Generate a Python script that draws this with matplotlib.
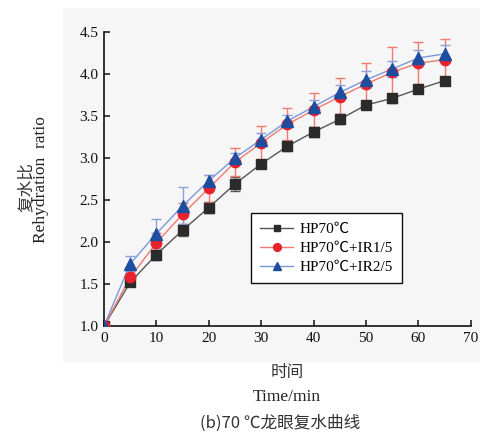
import matplotlib
matplotlib.use("Agg")
import matplotlib.pyplot as plt
from matplotlib.patches import Rectangle
from matplotlib.ticker import FormatStrFormatter

time_min = [0, 5, 10, 15, 20, 25, 30, 35, 40, 45, 50, 55, 60, 65]
hp70 = [1.0, 1.52, 1.85, 2.14, 2.41, 2.69, 2.93, 3.14, 3.31, 3.46, 3.63, 3.71, 3.82, 3.92]
hp70_err = [0, 0.04, 0.06, 0.07, 0.07, 0.08, 0.05, 0.06, 0.06, 0.06, 0.05, 0.05, 0.04, 0.04]
hp70_ir1 = [1.0, 1.58, 1.99, 2.33, 2.64, 2.95, 3.18, 3.40, 3.57, 3.73, 3.88, 4.02, 4.13, 4.17]
hp70_ir1_err = [0, 0.05, 0.12, 0.13, 0.16, 0.17, 0.20, 0.19, 0.20, 0.22, 0.25, 0.30, 0.25, 0.25]
hp70_ir2 = [1.0, 1.74, 2.10, 2.43, 2.73, 3.00, 3.22, 3.44, 3.61, 3.78, 3.93, 4.06, 4.19, 4.24]
hp70_ir2_err = [0, 0.09, 0.17, 0.22, 0.07, 0.06, 0.08, 0.07, 0.08, 0.09, 0.10, 0.10, 0.09, 0.10]
labels = ["HP70℃", "HP70℃+IR1/5", "HP70℃+IR2/5"]
yticks = [1.0, 1.5, 2.0, 2.5, 3.0, 3.5, 4.0, 4.5]
xticks = [0, 10, 20, 30, 40, 50, 60, 70]

serif = ["Liberation Serif", "Noto Sans CJK SC", "DejaVu Sans"]
cjk = ["Noto Sans CJK SC", "Liberation Serif", "DejaVu Sans"]
plt.rcParams['font.family'] = serif

W, H = 491, 436
fig = plt.figure(figsize=(W / 100, H / 100), dpi=100)
fig.patch.set_facecolor("white")
bg = Rectangle((63 / W, 1 - 362 / H), (480 - 63) / W, (362 - 8) / H,
               transform=fig.transFigure, facecolor="#f6f6f6",
               edgecolor="none", zorder=-10)
fig.patches.append(bg)

ax = fig.add_axes([104 / W, 1 - 326 / H, (470.7 - 104) / W, (326 - 32) / H])
ax.set_facecolor("none")
ax.set_zorder(1)

styles = [
    (hp70, hp70_err, "s", "#2b2b2b", "#555555", "#555555", 6.5),
    (hp70_ir1, hp70_ir1_err, "o", "#e8222c", "#f07a70", "#f07a70", 7.5),
    (hp70_ir2, hp70_ir2_err, "^", "#1d4d9f", "#7b98dc", "#8aa2dc", 8),
]
handles = []
for (vals, err, mk, mc, lc, ec, ms), lab in zip(styles, labels):
    ax.errorbar(time_min, vals, yerr=err, fmt="none", ecolor=ec, elinewidth=1.0,
                capsize=3.5, capthick=1.0, zorder=2)
    ax.plot(time_min, vals, color=lc, lw=1.0, zorder=3)
    ax.plot(time_min, vals, ls="none", marker=mk, ms=ms, color=mc, mec=mc, zorder=4)
    h, = ax.plot([], [], color=lc, lw=1.0, marker=mk, ms=ms * 0.75, mfc=mc, mec=mc, label=lab)
    handles.append(h)

ax.set_xlim(0, 70)
ax.set_ylim(1.0, 4.5)
ax.set_xticks(xticks)
ax.set_yticks(yticks)
ax.yaxis.set_major_formatter(FormatStrFormatter("%.1f"))
for s in ["top", "right"]:
    ax.spines[s].set_visible(False)
for s in ["left", "bottom"]:
    ax.spines[s].set_linewidth(1.2)
    ax.spines[s].set_color("#111111")
ax.tick_params(direction="in", length=4, width=1.1, labelsize=11, colors="#111111", pad=4)

leg = ax.legend(handles=handles, loc="upper left", bbox_to_anchor=(250.7 / W, 1 - 213.3 / H),
                bbox_transform=fig.transFigure, frameon=True, fancybox=False,
                edgecolor="#111111", framealpha=1, facecolor="white",
                handlelength=2.2, borderpad=0.6, labelspacing=0.35, handletextpad=0.4,
                borderaxespad=0,
                prop={"family": serif, "size": 11})
leg.get_frame().set_linewidth(1.0)

fig.text(26 / W, 1 - 187 / H, "复水比", rotation=90, ha="center", va="center",
         fontsize=12, family=cjk, color="#333333")
fig.text(41 / W, 1 - 180 / H, "Rehydration  ratio", rotation=90, ha="center", va="center",
         fontsize=12.5, family=serif, color="#222222")
fig.text(287 / W, 1 - 372 / H, "时间", ha="center", va="center", fontsize=12,
         family=cjk, color="#333333")
fig.text(287 / W, 1 - 397 / H, "Time/min", ha="center", va="center", fontsize=12.5,
         family=serif, color="#222222")
fig.text(280 / W, 1 - 423 / H, "(b)70 ℃龙眼复水曲线", ha="center", va="center", fontsize=12,
         family=cjk, color="#333333")

fig.savefig("out.png", dpi=100)
